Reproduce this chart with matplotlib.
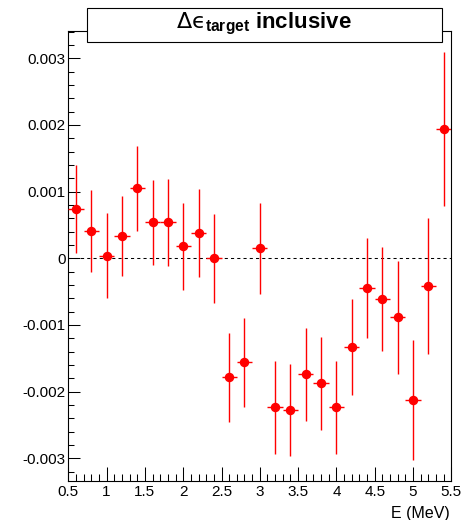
import numpy as np
import matplotlib.pyplot as plt
from matplotlib.patches import Rectangle
from matplotlib.ticker import MultipleLocator, FuncFormatter

plt.rcParams['font.family'] = ['Liberation Sans', 'DejaVu Sans']
plt.rcParams['mathtext.fontset'] = 'custom'
plt.rcParams['mathtext.rm'] = 'DejaVu Sans'
plt.rcParams['mathtext.bf'] = 'Liberation Sans:bold'
plt.rcParams['mathtext.it'] = 'Liberation Sans:italic'

# energy bins (MeV) and efficiency difference with its error
energy = [0.6, 0.8, 1.0, 1.2, 1.4, 1.6, 1.8, 2.0, 2.2, 2.4, 2.6, 2.8, 3.0,
          3.2, 3.4, 3.6, 3.8, 4.0, 4.2, 4.4, 4.6, 4.8, 5.0, 5.2, 5.4]
d_eps = [0.735, 0.41, 0.04, 0.33, 1.05, 0.54, 0.54, 0.18, 0.375, 0.0,
         -1.785, -1.56, 0.15, -2.235, -2.28, -1.74, -1.875, -2.235, -1.335,
         -0.45, -0.615, -0.885, -2.13, -0.42, 1.94]
d_eps_err = [0.66, 0.62, 0.64, 0.60, 0.64, 0.64, 0.65, 0.65, 0.66, 0.67,
             0.67, 0.67, 0.68, 0.70, 0.69, 0.70, 0.70, 0.70, 0.72, 0.75,
             0.78, 0.85, 0.90, 1.02, 1.16]
e_halfwidth = 0.1

energy = np.array(energy)
d_eps = np.array(d_eps) * 1e-3
d_eps_err = np.array(d_eps_err) * 1e-3

W, H = 466, 520
fig = plt.figure(figsize=(W / 100, H / 100), dpi=100)
ax = fig.add_axes([68.3 / W, 1 - 480.7 / H, 383 / W, 449.4 / H])

ax.axhline(0, color='black', lw=0.75, ls=(0, (3, 3)), zorder=1)
ax.errorbar(energy, d_eps, xerr=e_halfwidth, yerr=d_eps_err, fmt='o',
            color='red', ms=5.8, lw=1.0, capsize=0, zorder=3)

ax.set_xlim(0.5, 5.5)
ax.set_ylim(-0.003336, 0.003405)

ax.xaxis.set_major_locator(MultipleLocator(0.5))
ax.xaxis.set_minor_locator(MultipleLocator(0.1))
ax.yaxis.set_major_locator(MultipleLocator(0.001))
ax.yaxis.set_minor_locator(MultipleLocator(0.0002))
ax.xaxis.set_major_formatter(FuncFormatter(lambda v, p: f'{v:g}'))
ax.yaxis.set_major_formatter(FuncFormatter(lambda v, p: '0' if abs(v) < 1e-9 else f'{v:.3f}'))

ax.tick_params(axis='x', which='major', direction='in', length=10, width=0.75,
               labelsize=11, pad=3, top=False)
ax.tick_params(axis='x', which='minor', direction='in', length=5, width=0.75, top=False)
ax.tick_params(axis='y', which='major', direction='in', length=8.5, width=0.75,
               labelsize=11, pad=2, right=False)
ax.tick_params(axis='y', which='minor', direction='in', length=4.3, width=0.75, right=False)
for s in ax.spines.values():
    s.set_linewidth(0.8)

fig.text(450 / W, 1 - 517.7 / H, 'E (MeV)', ha='right', va='baseline', fontsize=11.5)

# title box overlapping the top of the frame
box = Rectangle((87.3 / W, 1 - 42.3 / H), 354.4 / W, 34 / H,
                transform=fig.transFigure, facecolor='white',
                edgecolor='black', lw=0.8, zorder=5)
fig.add_artist(box)
fig.text(264 / W, 1 - 28.3 / H, '$\\mathrm{\u0394\u03f5}_{\\mathbf{target}}$ inclusive',
         ha='center', va='baseline', fontsize=16, fontweight='bold', zorder=6)

fig.savefig('out.png', dpi=100)
